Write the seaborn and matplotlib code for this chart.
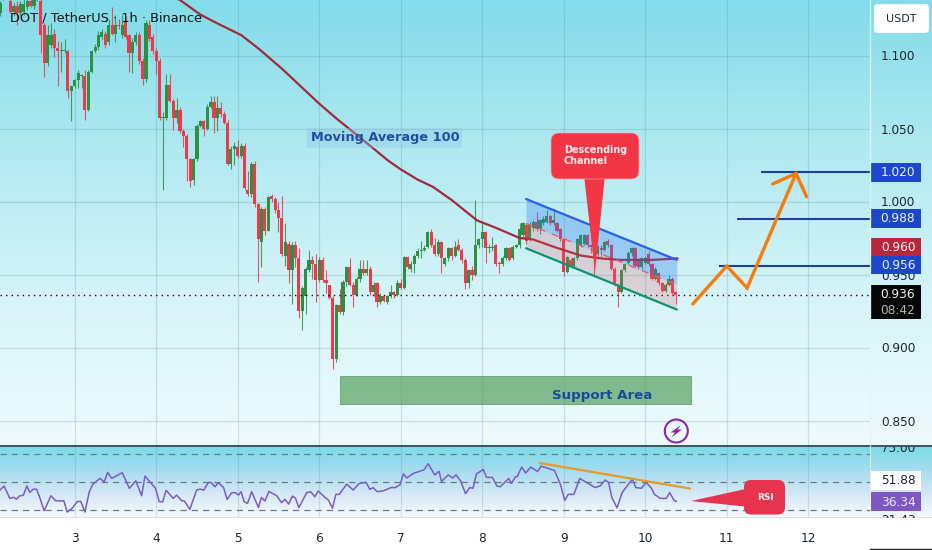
import numpy as np
import matplotlib
matplotlib.use("Agg")
import matplotlib.pyplot as plt
from matplotlib.colors import LinearSegmentedColormap
from matplotlib.patches import FancyBboxPatch, Polygon, Rectangle, Circle
import seaborn as sns

opens = [1.129,1.140,1.141,1.137,1.130,1.134,1.129,1.130,1.133,1.137,
1.134,1.138,1.137,1.121,1.095,1.107,1.115,1.105,1.103,1.103,
1.103,1.076,1.079,1.083,1.086,1.086,1.063,1.089,1.103,1.106,
1.113,1.115,1.109,1.121,1.115,1.121,1.114,1.123,1.114,1.102,
1.109,1.114,1.096,1.084,1.121,1.113,1.103,1.096,1.057,1.057,
1.080,1.069,1.057,1.063,1.048,1.045,1.029,1.015,1.029,1.052,
1.055,1.050,1.065,1.068,1.057,1.064,1.060,1.054,1.026,1.036,
1.037,1.031,1.038,1.008,1.005,1.026,0.998,0.972,0.995,0.980,
1.004,1.002,0.994,0.989,0.963,0.971,0.953,0.970,0.961,0.925,
0.935,0.953,0.960,0.957,0.946,0.960,0.946,0.943,0.934,0.892,
0.929,0.924,0.945,0.955,0.943,0.936,0.947,0.954,0.951,0.954,
0.938,0.944,0.931,0.935,0.931,0.935,0.938,0.936,0.944,0.941,
0.962,0.954,0.957,0.963,0.966,0.967,0.969,0.979,0.970,0.964,
0.972,0.957,0.961,0.968,0.963,0.970,0.967,0.960,0.944,0.953,
0.950,0.970,0.974,0.979,0.968,0.968,0.970,0.958,0.957,0.961,
0.968,0.961,0.969,0.970,0.977,0.984,0.974,0.982,0.986,0.981,
0.985,0.986,0.990,0.985,0.985,0.981,0.974,0.952,0.960,0.956,
0.961,0.970,0.971,0.977,0.970,0.969,0.964,0.968,0.967,0.973,
0.970,0.954,0.943,0.938,0.953,0.958,0.965,0.968,0.960,0.955,
0.958,0.964,0.957,0.947,0.951,0.944,0.939,0.943,0.947,0.938]

closes = [1.136,1.139,1.140,1.130,1.134,1.129,1.135,1.135,1.137,1.134,
1.138,1.139,1.114,1.095,1.114,1.114,1.105,1.103,1.104,1.103,
1.076,1.079,1.083,1.088,1.086,1.063,1.089,1.103,1.106,1.114,
1.116,1.107,1.121,1.115,1.121,1.120,1.121,1.113,1.102,1.109,
1.114,1.096,1.084,1.122,1.111,1.103,1.096,1.057,1.058,1.080,
1.069,1.057,1.063,1.048,1.045,1.029,1.014,1.029,1.052,1.055,
1.050,1.065,1.068,1.057,1.064,1.060,1.054,1.026,1.036,1.038,
1.031,1.038,1.009,1.005,1.026,0.998,0.974,0.995,0.980,1.003,
1.002,0.994,0.989,0.964,0.972,0.953,0.970,0.961,0.925,0.941,
0.954,0.960,0.957,0.946,0.960,0.946,0.944,0.934,0.892,0.929,
0.924,0.945,0.955,0.943,0.936,0.947,0.954,0.951,0.954,0.938,
0.943,0.931,0.935,0.932,0.935,0.938,0.936,0.944,0.941,0.962,
0.955,0.957,0.963,0.966,0.967,0.968,0.979,0.970,0.964,0.972,
0.961,0.961,0.968,0.963,0.969,0.967,0.960,0.944,0.953,0.950,
0.970,0.974,0.979,0.968,0.969,0.969,0.957,0.957,0.961,0.968,
0.960,0.969,0.970,0.981,0.985,0.973,0.984,0.986,0.981,0.987,
0.988,0.990,0.985,0.987,0.980,0.974,0.952,0.962,0.956,0.961,
0.974,0.977,0.977,0.970,0.969,0.963,0.969,0.967,0.972,0.970,
0.954,0.943,0.938,0.953,0.957,0.965,0.968,0.956,0.955,0.961,
0.961,0.957,0.947,0.954,0.944,0.939,0.943,0.947,0.937,0.936]

highs = [1.137,1.141,1.142,1.140,1.136,1.137,1.137,1.139,1.140,1.140,
1.140,1.141,1.140,1.122,1.121,1.122,1.118,1.110,1.109,1.111,
1.104,1.080,1.084,1.090,1.087,1.090,1.090,1.104,1.108,1.117,
1.118,1.117,1.125,1.133,1.128,1.125,1.128,1.127,1.115,1.112,
1.116,1.116,1.098,1.124,1.124,1.115,1.105,1.098,1.061,1.087,
1.087,1.070,1.071,1.065,1.050,1.046,1.030,1.030,1.053,1.056,
1.056,1.067,1.072,1.072,1.072,1.068,1.062,1.056,1.038,1.041,
1.042,1.040,1.040,1.021,1.027,1.028,0.999,0.996,0.996,1.004,
1.005,1.003,1.000,1.004,0.985,0.973,0.972,0.973,0.968,0.942,
0.955,0.967,0.963,0.964,0.962,0.962,0.953,0.943,0.935,0.930,
0.940,0.946,0.956,0.961,0.945,0.948,0.960,0.960,0.960,0.956,
0.945,0.945,0.937,0.936,0.936,0.943,0.939,0.946,0.947,0.963,
0.963,0.959,0.964,0.968,0.973,0.970,0.980,0.981,0.975,0.974,
0.973,0.962,0.969,0.969,0.973,0.974,0.968,0.961,0.954,0.956,
1.001,0.975,0.985,0.980,0.971,0.976,0.971,0.959,0.963,0.969,
0.969,0.970,0.971,0.985,0.986,0.985,0.986,0.987,0.993,0.988,
0.990,0.994,0.991,0.995,0.986,0.982,0.975,0.963,0.961,0.962,
0.975,0.978,0.978,0.978,0.971,0.970,0.970,0.970,0.973,0.974,
0.971,0.955,0.944,0.954,0.958,0.966,0.969,0.969,0.961,0.962,
0.963,0.966,0.958,0.955,0.952,0.945,0.944,0.950,0.948,0.939]

lows = [1.127,1.138,1.139,1.129,1.127,1.121,1.127,1.128,1.131,1.133,
1.132,1.137,1.102,1.085,1.093,1.105,1.099,1.079,1.089,1.102,
1.071,1.055,1.078,1.078,1.078,1.056,1.062,1.088,1.102,1.104,
1.111,1.105,1.107,1.114,1.109,1.118,1.112,1.111,1.089,1.088,
1.107,1.094,1.080,1.082,1.110,1.101,1.087,1.056,1.008,1.056,
1.068,1.049,1.054,1.047,1.037,1.014,1.010,1.011,1.028,1.051,
1.045,1.049,1.064,1.047,1.048,1.058,1.053,1.025,1.022,1.025,
1.030,1.030,1.008,1.004,1.003,0.996,0.945,0.955,0.977,0.980,
1.000,0.992,0.979,0.963,0.956,0.944,0.930,0.955,0.920,0.912,
0.923,0.952,0.947,0.931,0.945,0.945,0.937,0.933,0.885,0.890,
0.923,0.922,0.942,0.942,0.928,0.935,0.945,0.950,0.950,0.936,
0.935,0.928,0.930,0.931,0.930,0.934,0.934,0.935,0.940,0.940,
0.954,0.952,0.951,0.961,0.961,0.966,0.968,0.969,0.963,0.963,
0.951,0.956,0.959,0.960,0.962,0.966,0.958,0.940,0.941,0.946,
0.949,0.968,0.969,0.958,0.965,0.966,0.956,0.951,0.956,0.960,
0.959,0.960,0.968,0.968,0.975,0.971,0.973,0.980,0.980,0.978,
0.984,0.985,0.984,0.984,0.979,0.973,0.949,0.951,0.955,0.955,
0.960,0.969,0.970,0.969,0.965,0.950,0.962,0.962,0.966,0.969,
0.953,0.942,0.928,0.937,0.952,0.957,0.963,0.955,0.954,0.954,
0.957,0.956,0.946,0.946,0.943,0.938,0.938,0.942,0.936,0.930]

ma_bars = [50,53,59,64,71,76,83,94,99.5,105.4,114.3,118,123,127.5,133,140.5,146,153,157,163,171,177,182.5,192,199.5]
ma_values = [1.141,1.138,1.128,1.122,1.114,1.105,1.091,1.067,1.056,1.045,1.028,1.022,1.015,1.010,1.001,0.987,0.982,0.975,0.974,0.969,0.963,0.961,0.960,0.960,0.961]

rsi_bars = [0,1.2,2.9,3.9,4.9,5.7,6.9,7.9,8.8,9.8,10.8,11.8,13,15,16.4,17.7,18.8,19.8,21.1,22.8,23.8,25,26.3,27.3,29.4,30.7,31.7,32.9,36,38.1,40,41.7,42.7,45.8,46.9,47.9,48.9,51,52,53.5,54.3,55.9,57.9,58.9,60,61.3,62.1,63.3,64.3,65.8,66.9,68.2,69.4,70.2,71,71.9,72.9,74.1,76.1,77,78,79.2,81.5,82.9,83.9,85,86.1,87,88,90.3,91.5,92.7,93.7,95.7,96.7,97.9,98.9,99.9,102.1,104,105.8,107.8,108.9,109.9,111.1,112.9,115.3,116.3,117.8,
118.8,119.8,121.8,124.8,126.1,128,129.3,130,132,133.3,134.3,135.6,137.1,138.3,139.3,140.3,142.3,143.3,145,146.3,147.3,149.8,150.6,151.8,152.3,153.6,154.8,156.3,158.3,159.3,161.8,163.3,165,166.3,167.3,169,170.7,172.7,175.2,176.7,178.2,179.2,180.2,181.7,183.2,186.2,187.2,188.9,190.2,191.7,192.7,194.5,196.2,197.2,198.5,199.2]
rsi_values = [44.2,47.1,38.2,38.9,37.7,39.9,40.6,47.1,42.5,44.9,44.7,38.2,29.3,40.1,36.5,36.3,36.5,28.4,30.8,36,36,28.4,43,48.3,52.6,50.2,56.9,52.6,56.7,45.4,50.9,40.1,54.3,45.4,35.8,35.8,44,38.2,40.6,36.5,36.3,30.3,44.2,44.9,44.2,49.5,49.7,46.6,49.5,46.1,37.5,42.3,42.3,40.6,43,35.8,34.6,43,31.7,38.9,36.3,43.2,40.1,35.1,37.5,34.1,39.9,38.4,31.5,42.3,43,39.4,43.5,38.9,37,31.2,41.1,41.1,48.5,44.2,49,49.7,44.7,45.9,43,43.7,46.1,45.9,48,
55.8,52.9,56.3,58.7,63.1,55.1,57.7,50.4,55.1,52.9,55.1,50.9,41.6,46,45.5,55.8,59,53.3,53.3,47.2,46.5,52.6,49,53.8,53.8,60.7,56.5,60.7,57.5,61.4,59.5,58.2,48.5,36.7,41.1,41.1,52.6,49.7,46,47.2,51.4,49.7,38.7,31.4,42.4,52.1,46,45.5,49.7,46,41.1,38.2,38.2,42.4,36.7,36]

days = [3,4,5,6,7,8,9,10,11,12]
price_ticks = [0.850,0.900,0.950,1.000,1.050,1.100]
rsi_levels = [30,50,70]
target_levels = [0.956,0.988,1.020]
target_starts = [211.8,217,224]
channel_bars = [154.9,199.3]
channel_top = [1.0017,0.960]
channel_mid = [0.985,0.943]
channel_bottom = [0.968,0.926]
support_bars = [100,203.5]
support_prices = [0.8613,0.8805]
path_bars = [204,214,220,234.4]
path_prices = [0.9298,0.9558,0.9408,1.0192]
head_bars = [227.5,234.4,237.5]
head_prices = [1.012,1.0192,1.0033]
rsi_trend_bars = [159,203.2]
rsi_trend_values = [63.6,45.3]
last_price = 0.936
badges = [("1.020","#1c47c8",163,182),("0.988","#1c47c8",209,228),
          ("0.960","#b8283a",238,256),("0.956","#1c47c8",256,274)]

W, H = 932, 550
BAR_PX = 3.396
sns.set_theme(style="white")
plt.rcParams["font.family"] = ["DejaVu Sans"]

fig = plt.figure(figsize=(W/100, H/100), dpi=100, facecolor="white")

# backdrop gradients
bg = fig.add_axes([0, 0, 1, 1], zorder=0)
bg.set_axis_off()
grad = np.linspace(0, 1, 256).reshape(-1, 1)
cm_main = LinearSegmentedColormap.from_list("m", ["#82dce9", "#b0e9f1", "#d6f4f8", "#eefbfd"])
cm_rsi = LinearSegmentedColormap.from_list("r", ["#7adbe7", "#a6dcee", "#d5e8f6", "#f6f9fe"])
bg.imshow(grad, cmap=cm_main, extent=[0, W, 446, 0], aspect="auto", vmin=0, vmax=1)
bg.imshow(grad, cmap=cm_rsi, extent=[0, W, 517, 447], aspect="auto", vmin=0, vmax=1)
bg.set_xlim(0, W)
bg.set_ylim(H, 0)

# price pane
ax = fig.add_axes([0, 104/H, 870/W, 446/H], zorder=1)
ax.patch.set_alpha(0)
ax.set_xlim(0, 870/BAR_PX)
ax.set_ylim(1-(446-201.5)/1460, 1+201.5/1460)
for s in ax.spines.values():
    s.set_visible(False)

day_pos = [22 + 24*(d-3) for d in days]
grid_c = "#4f8f9c"
for p in day_pos:
    ax.axvline(p, color=grid_c, alpha=0.24, lw=0.9, zorder=1)
for p in price_ticks:
    ax.axhline(p, color=grid_c, alpha=0.24, lw=0.9, zorder=1)

xs = np.arange(len(closes))
o, c, hi, lo = map(np.array, (opens, closes, highs, lows))
cols = np.where(c >= o, "#2f8f43", "#ea3a4c")
ax.vlines(xs, lo, hi, colors=cols, lw=0.8, alpha=0.85, zorder=2)
ax.bar(xs, np.maximum(np.abs(c-o), 0.0006), bottom=np.minimum(o, c), width=0.92, color=cols, lw=0, zorder=3)

sns.lineplot(x=ma_bars, y=ma_values, ax=ax, color="#a22a3a", lw=1.6, legend=False, errorbar=None, zorder=4)

ax.axhline(last_price, color="#111111", lw=1.0, ls=(0, (1, 3)), zorder=4)

# parallel channel
cx = np.array(channel_bars)
ax.fill_between(cx, channel_mid, channel_top, color="#2f7df0", alpha=0.32, lw=0, zorder=5)
ax.fill_between(cx, channel_bottom, channel_mid, color="#ef5a6a", alpha=0.22, lw=0, zorder=5)
ax.plot(cx, channel_top, color="#2962e8", lw=1.6, zorder=6)
ax.plot(cx, channel_bottom, color="#0d9470", lw=1.6, zorder=6)
ax.plot(cx, channel_mid, color="#e8606e", lw=1.0, ls=(0, (5, 5)), zorder=6)

# support zone
ax.add_patch(Rectangle((support_bars[0], support_prices[0]), support_bars[1]-support_bars[0],
                       support_prices[1]-support_prices[0], facecolor="#5ea568", alpha=0.75,
                       edgecolor="#4c8f58", lw=0.6, zorder=3))
ax.text(177.3, 0.8672, "Support Area", color="#1a4a9c", fontsize=9.6, ha="center", va="center",
        fontweight="bold", zorder=7)

# target levels and projected path
for lev, st in zip(target_levels, target_starts):
    ax.plot([st, 870/BAR_PX], [lev, lev], color="#1b3fa6", lw=1.5, zorder=6, solid_capstyle="butt")
ax.plot(path_bars, path_prices, color="#f57c0a", lw=2.4, zorder=7, solid_joinstyle="miter")
ax.plot(head_bars, head_prices, color="#f57c0a", lw=2.4, zorder=7, solid_joinstyle="miter")

ax.xaxis.set_visible(False)
ax.yaxis.tick_right()
ax.set_yticks(price_ticks)
ax.set_yticklabels([f"{p:.3f}" for p in price_ticks], color="#1c2530", fontsize=8.7)
ax.tick_params(axis="y", length=0, pad=8)

# RSI pane
rx = fig.add_axes([0, (H-517)/H, 870/W, 70/H], zorder=1)
rx.patch.set_alpha(0)
rx.set_xlim(ax.get_xlim())
rx.set_ylim(50-(517-482)/1.39, 50+(482-447)/1.39)
for s in rx.spines.values():
    s.set_visible(False)
for p in day_pos:
    rx.axvline(p, color=grid_c, alpha=0.22, lw=0.9, zorder=1)
for lev in rsi_levels:
    rx.axhline(lev, color="#6d7a84", lw=0.9, ls=(0, (5, 4)), zorder=2)
sns.lineplot(x=rsi_bars, y=rsi_values, ax=rx, color="#7b5cc4", lw=1.1, legend=False, errorbar=None, zorder=3, sort=False)
rx.plot(rsi_trend_bars, rsi_trend_values, color="#e69a28", lw=1.6, zorder=4)
rx.set_yticks([])
rx.set_xticks(day_pos)
rx.set_xticklabels([str(d) for d in days], color="#1c2530", fontsize=8.7)
rx.tick_params(axis="x", length=0, pad=11)
rx.set_xlabel("")
rx.set_ylabel("")
ax.set_xlabel("")
ax.set_ylabel("")

# overlay for annotations drawn in screen pixels
ov = fig.add_axes([0, 0, 1, 1], zorder=3)
ov.set_axis_off()
ov.set_xlim(0, W)
ov.set_ylim(H, 0)

ov.plot([0, W], [446, 446], color="#37424a", lw=1.3)
ov.plot([0, W], [516.8, 516.8], color="#d8dde2", lw=0.7)
ov.plot([870, 870], [0, 446], color="#dff6fa", lw=1.0, alpha=0.8)
ov.plot([870, 870], [447, 517], color="#e6f4f8", lw=0.8, alpha=0.8)
ov.plot([870, W], [549, 549], color="#222222", lw=1.0)

ov.text(10, 18, "DOT / TetherUS · 1h · Binance", color="#0c1218", fontsize=9.3, ha="left", va="center")

ov.add_patch(Rectangle((307, 128), 155, 20, facecolor="#8cc4dc", alpha=0.35, lw=0))
ov.text(385, 138, "Moving Average 100", color="#1f4fa0", fontsize=9.3, ha="center", va="center", fontweight="bold")

red = "#f23645"
ov.add_patch(Polygon([(584, 175), (605, 175), (595, 272)], closed=True, facecolor=red, lw=0))
ov.add_patch(FancyBboxPatch((558, 140), 74, 32, boxstyle="round,pad=7,rounding_size=8",
                            facecolor=red, edgecolor="#f7a0a8", lw=0.5))
ov.text(564, 155.5, "Descending\nChannel", color="#fff0f0", fontsize=6.9, ha="left", va="center",
        fontweight="bold", linespacing=1.05)

rsired = "#e8334f"
ov.add_patch(Polygon([(750, 488), (750, 507), (691, 501)], closed=True, facecolor=rsired, lw=0))
ov.add_patch(FancyBboxPatch((750, 486), 29, 22.5, boxstyle="round,pad=6,rounding_size=7",
                            facecolor=rsired, lw=0))
ov.text(765, 497, "RSI", color="#fff0f0", fontsize=6.5, ha="center", va="center", fontweight="bold")

ov.add_patch(Circle((676.3, 431), 11.5, facecolor="none", edgecolor="#8e24aa", lw=1.5))
ov.add_patch(Polygon([(681, 425), (670.5, 432.5), (675, 432.5), (671.5, 437.5), (682, 429.5), (677.5, 429.5)],
                     closed=True, facecolor="#8e24aa", lw=0))

# price scale badges
ov.add_patch(FancyBboxPatch((877, 7), 49, 23, boxstyle="round,pad=3,rounding_size=4", facecolor="white", lw=0))
ov.text(901.5, 18.5, "USDT", color="#1c2530", fontsize=8.0, ha="center", va="center")
for label, col, y0, y1 in badges:
    ov.add_patch(Rectangle((871, y0), 50, y1-y0, facecolor=col, lw=0))
    ov.text(898, (y0+y1)/2+0.5, label, color="#eef3ff", fontsize=8.7, ha="center", va="center")
ov.add_patch(Rectangle((871, 285), 50, 34, facecolor="#050505", lw=0))
ov.text(898, 295, "0.936", color="#f2f2f2", fontsize=8.7, ha="center", va="center")
ov.text(898, 310, "08:42", color="#b4b4b4", fontsize=8.7, ha="center", va="center")

# RSI scale (the outer two labels are cut by the pane, as in the source)
clip = Rectangle((870, 447), 62, 71, transform=ov.transData)
for txt, yy in [("75.00", 448.5), ("21.43", 521)]:
    t = ov.text(898, yy, txt, color="#1c2530", fontsize=8.7, ha="center", va="center", clip_on=True)
    t.set_clip_path(clip)
ov.add_patch(Rectangle((871, 471), 50, 19, facecolor="white", lw=0))
ov.text(898, 481, "51.88", color="#1c2530", fontsize=8.7, ha="center", va="center")
ov.add_patch(Rectangle((871, 492), 50, 19, facecolor="#7e57c2", lw=0))
ov.text(898, 502, "36.34", color="#f2eeff", fontsize=8.7, ha="center", va="center")

fig.savefig("out.png", dpi=100)
